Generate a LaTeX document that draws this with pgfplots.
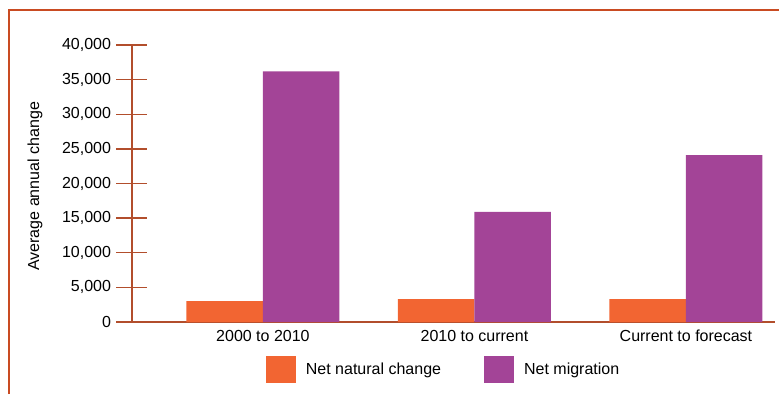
\documentclass[border=0pt]{standalone}
\usepackage{pgfplots}
\pgfplotsset{compat=1.18}
\usepackage{fontspec}
\setmainfont{Liberation Sans}

\definecolor{natural}{HTML}{F26532}
\definecolor{migration}{HTML}{A34497}
\definecolor{axiscol}{HTML}{B24E2C}
\definecolor{framecol}{HTML}{C94B22}

\begin{document}
\begin{tikzpicture}
\begin{axis}[
    scale only axis,
    width=643pt, height=277pt,
    xmin=-0.619, xmax=2.421,
    ymin=0, ymax=40000,
    ybar=0pt, bar width=76.5pt,
    axis x line*=bottom, axis y line*=left,
    axis line style={draw=axiscol, line width=1.1pt, -},
    xtick=data,
    xticklabels={2000 to 2010, 2010 to current, Current to forecast},
    x tick style={draw=none},
    ytick={0,5000,...,40000},
    major tick style={draw=axiscol, line width=1.3pt},
    tick align=center,
    major tick length=31pt,
    scaled y ticks=false,
    /pgf/number format/assume math mode=true,
    /pgf/number format/1000 sep={,},
    tick label style={font=\fontsize{16pt}{19pt}\selectfont, text=black},
    yticklabel style={xshift=-2pt},
    xticklabel style={yshift=11pt},
    ylabel={Average annual change},
    ylabel style={font=\fontsize{16pt}{19pt}\selectfont, at={(axis description cs:-0.151,0.49)}, anchor=center},
    legend columns=2,
    legend style={draw=none, fill=none, at={(axis description cs:0.483,-0.173)}, anchor=center,
        font=\fontsize{16pt}{19pt}\selectfont,
        /tikz/every even column/.append style={column sep=43pt},
        nodes={inner sep=0pt, anchor=west}},
    legend image code/.code={\fill[#1] (0pt,-13.5pt) rectangle (30pt,13.5pt); \path (40pt,0pt);},
    clip=false,
]
\addplot[fill=natural, draw=none] coordinates {(0,3000) (1,3300) (2,3300)};
\addlegendentry{Net natural change}
\addplot[fill=migration, draw=none] coordinates {(0,36200) (1,15900) (2,24100)};
\addlegendentry{Net migration}
\end{axis}
% open frame around the figure
\draw[framecol, line width=1.4pt] (-123pt,-72pt) -- (-123pt,312pt) -- (647pt,312pt);
\pgfresetboundingbox
\path[use as bounding box] (-132pt,-72pt) rectangle (647pt,322pt);
\end{tikzpicture}
\end{document}
